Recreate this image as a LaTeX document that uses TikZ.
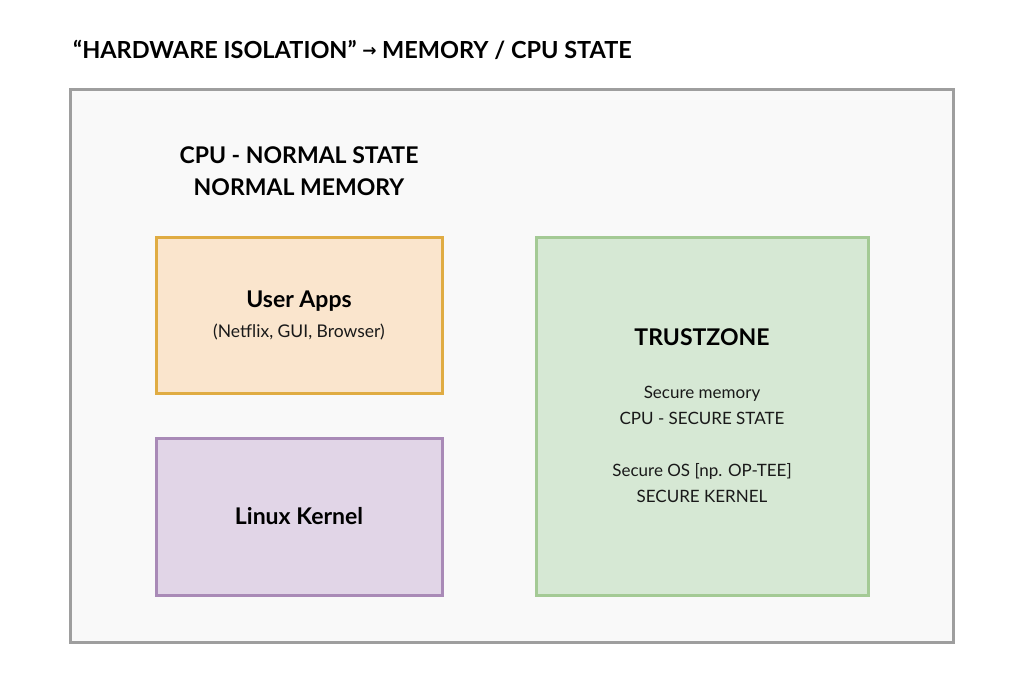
\documentclass[tikz,border=0pt]{standalone}
\usepackage{fontspec}
\setmainfont{Lato}
\newfontfamily\arrowfont{DejaVu Sans}
\definecolor{outerfill}{HTML}{F9F9F9}
\definecolor{outerline}{HTML}{9E9E9E}
\definecolor{appfill}{HTML}{FAE5CD}
\definecolor{appline}{HTML}{E0AC43}
\definecolor{kernfill}{HTML}{E1D5E7}
\definecolor{kernline}{HTML}{A98AB7}
\definecolor{tzfill}{HTML}{D6E8D4}
\definecolor{tzline}{HTML}{A4CA95}
\tikzset{
  box/.style={line width=3pt},
  headtext/.style={font=\fontsize{23}{27}\selectfont\bfseries, text=black, inner sep=0pt, align=center},
  bodytext/.style={font=\fontsize{17}{26}\selectfont, text=black!90, inner sep=0pt, align=center},
}
\begin{document}
\begin{tikzpicture}[x=1pt,y=-1pt]
\useasboundingbox (0,0) rectangle (1024,691);
\fill[white] (0,0) rectangle (1024,691);
\node[anchor=base west, inner sep=0pt, font=\fontsize{23.5}{27}\selectfont\bfseries] (title) at (73,58)
  {“HARDWARE ISOLATION” {\arrowfont\bfseries\fontsize{17}{19}\selectfont\raisebox{1.5pt}{→}} MEMORY / CPU STATE};
\draw[box, fill=outerfill, draw=outerline] (70,89) rectangle (953,642);
\node[headtext, font=\fontsize{23}{32}\selectfont\bfseries] (normal) at (299,171) {CPU - NORMAL STATE\\NORMAL MEMORY};
\draw[box, fill=appfill, draw=appline] (156,237) rectangle (442,393);
\node[headtext] (apps) at (299,301) {User Apps};
\node[bodytext, font=\fontsize{17.5}{26}\selectfont] (appsub) at (299,332) {(Netflix, GUI, Browser)};
\draw[box, fill=kernfill, draw=kernline] (156,438) rectangle (442,595);
\node[headtext] (kernel) at (299,516) {Linux Kernel};
\draw[box, fill=tzfill, draw=tzline] (536,237) rectangle (868,595);
\node[headtext] (tz) at (702,337) {TRUSTZONE};
\node[bodytext] (tzsub) at (702,444.5) {Secure memory\\CPU - SECURE STATE\\[26pt]Secure OS [np. OP-TEE]\\SECURE KERNEL};
\end{tikzpicture}
\end{document}
